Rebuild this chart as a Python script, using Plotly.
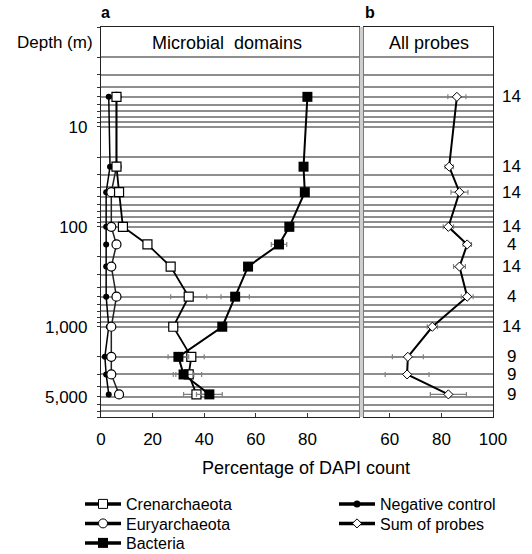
import numpy as np
import plotly.graph_objects as go

# ---------------- data ----------------
depth = [5, 25, 45, 100, 150, 250, 500, 1000, 2000, 3000, 4750]
crenarchaeota = [6, 6, 7, 8.5, 18, 27, 34, 28, 35, 34, 37]
cren_err = [None, None, None, None, None, None, 7, None, 5, 5, 5]
euryarchaeota = [6, 6, 4, 4, 6, 4, 6, 4, 4, 4, 7]
bacteria = [80, 78.5, 79, 73, 69, 57, 52, 47, 30, 32, 42]
bact_err = [None, None, None, None, 3, None, 5.5, None, 4, 4, 5]
negative_control = [3, 3.5, 2, 2, 2, 2, 2, 3, 1.5, 2, 3]
sum_of_probes = [86, 83, 87, 82.7, 90, 87, 90, 76.5, 67, 66.7, 82.7]
sum_err = [3.5, 1.6, 3.3, 2, 1.6, 2.3, 2.3, 2, 6, 8.5, 7]
n_probes = [14, 14, 14, 14, 4, 14, 4, 14, 9, 9, 9]

y_label_vals = {10: "10", 100: "100", 1000: "1,000", 5000: "5,000"}
xa_ticks = [0, 20, 40, 60, 80]
xb_ticks = [60, 80, 100]

# ---------------- layout geometry ----------------
W, H = 532, 554
TOP, BOT = 27, 417
PH = BOT - TOP
FONT = "Liberation Sans, Arial, Helvetica, sans-serif"
FS = 17

def py(pix):
    return 1 - (pix - TOP) / PH

def px(pix):
    return pix / W

grid_vals = [m * 10 ** k for k in range(4) for m in range(1, 10) if m * 10 ** k <= 8000]
grid_text = [y_label_vals.get(v, "") for v in grid_vals]

fig = go.Figure()

err_style = dict(type="data", color="#808080", thickness=1.2, width=2.5)

# Panel a
fig.add_trace(go.Scatter(x=negative_control, y=depth, mode="lines+markers",
                         line=dict(color="black", width=1.5),
                         marker=dict(symbol="circle", size=6, color="black"),
                         showlegend=False, xaxis="x", yaxis="y"))
fig.add_trace(go.Scatter(x=euryarchaeota, y=depth, mode="lines+markers",
                         line=dict(color="#222", width=1.5),
                         marker=dict(symbol="circle", size=9, color="white",
                                     line=dict(color="black", width=1.2)),
                         showlegend=False, xaxis="x", yaxis="y"))
fig.add_trace(go.Scatter(x=crenarchaeota, y=depth, mode="lines+markers",
                         line=dict(color="black", width=1.8),
                         marker=dict(symbol="square", size=9, color="white",
                                     line=dict(color="black", width=1.2)),
                         error_x=dict(array=cren_err, **err_style),
                         showlegend=False, xaxis="x", yaxis="y"))
fig.add_trace(go.Scatter(x=bacteria, y=depth, mode="lines+markers",
                         line=dict(color="black", width=2),
                         marker=dict(symbol="square", size=10, color="black"),
                         error_x=dict(array=bact_err, **err_style),
                         showlegend=False, xaxis="x", yaxis="y"))
# Panel b
fig.add_trace(go.Scatter(x=sum_of_probes, y=depth, mode="lines+markers",
                         line=dict(color="black", width=2),
                         marker=dict(symbol="diamond", size=7, color="white",
                                     line=dict(color="black", width=1)),
                         error_x=dict(array=sum_err, **err_style),
                         showlegend=False, xaxis="x2", yaxis="y2"))

# legend entries (one legend each, for precise placement)
leg_items = [
    ("Crenarchaeota", dict(symbol="square", size=9, color="white", line=dict(color="black", width=1)), "legend", 83, 504),
    ("Euryarchaeota", dict(symbol="circle", size=9, color="white", line=dict(color="black", width=1)), "legend2", 83, 523.5),
    ("Bacteria", dict(symbol="square", size=10, color="black"), "legend3", 83, 543),
    ("Negative control", dict(symbol="circle", size=7, color="black"), "legend4", 337, 504),
    ("Sum of probes", dict(symbol="diamond", size=7, color="white", line=dict(color="black", width=1)), "legend5", 337, 523.5),
]
legend_layouts = {}
for name, mk, lg, lx, ly in leg_items:
    fig.add_trace(go.Scatter(x=[None], y=[None], mode="lines+markers", name=name,
                             line=dict(color="black", width=3.5), marker=mk,
                             legend=lg, xaxis="x", yaxis="y"))
    legend_layouts[lg] = dict(x=px(lx - 3), y=py(ly), xanchor="left", yanchor="middle",
                              bgcolor="rgba(0,0,0,0)", font=dict(family=FONT, size=16, color="black"),
                              itemwidth=36, borderwidth=0)

axis_common = dict(showline=True, mirror=True, linecolor="#222", linewidth=1.2,
                   zeroline=False, showgrid=False, automargin=False)

yaxis_common = dict(type="log", range=[np.log10(8000), 0], tickmode="array",
                    tickvals=grid_vals, showgrid=True, gridcolor="#8e8e8e", gridwidth=1.5,
                    showline=True, mirror=True, linecolor="#222", linewidth=1.2, zeroline=False,
                    automargin=False)

fig.update_layout(
    width=W, height=H,
    margin=dict(l=0, r=0, t=TOP, b=H - BOT, autoexpand=False),
    paper_bgcolor="white", plot_bgcolor="white",
    font=dict(family=FONT, size=FS, color="black"),
    xaxis=dict(domain=[px(101), px(359)], range=[0, 100], tickmode="array", tickvals=xa_ticks,
               ticks="inside", ticklen=4, tickcolor="#333", ticklabelstandoff=6,
               tickfont=dict(size=FS), anchor="y", **axis_common),
    xaxis2=dict(domain=[px(364), px(493)], range=[50, 100], tickmode="array", tickvals=xb_ticks,
                ticks="inside", ticklen=4, tickcolor="#333", ticklabelstandoff=6,
                tickfont=dict(size=FS), anchor="y2", **axis_common),
    yaxis=dict(ticktext=grid_text, ticks="outside", ticklen=3, tickcolor="#333",
               ticklabelstandoff=6, tickfont=dict(size=FS), anchor="x", **yaxis_common),
    yaxis2=dict(ticktext=["" for _ in grid_vals], ticks="", showticklabels=False,
                matches="y", anchor="x2", **yaxis_common),
    **legend_layouts,
)

# gray band between the two panels
fig.add_shape(type="rect", xref="paper", yref="paper", x0=px(359.5), x1=px(363.5), y0=0, y1=1,
              fillcolor="#cfcfcf", line=dict(width=0), layer="above")

def note(text, x, y, size=FS, xanchor="center", yref="paper"):
    return dict(text=text, x=x, y=y, xref="paper", yref=yref, xanchor=xanchor,
                yanchor="middle", showarrow=False, font=dict(size=size))

ann = [
    note("Microbial  domains", px(227), py(43), size=18),
    note("All probes", px(429), py(43), size=18),
    note("Depth (m)", px(95), py(43), xanchor="right"),
    note("<b>a</b>", px(99), py(13), size=16, xanchor="left"),
    note("<b>b</b>", px(363), py(13), size=16, xanchor="left"),
    note("Percentage of DAPI count", px(306), py(468), size=18),
]
for d, n in zip(depth, n_probes):
    ann.append(note(str(n), px(511), np.log10(d), yref="y"))
fig.update_layout(annotations=ann)

fig.write_html("out.html", config={"displayModeBar": False},
               post_script="document.body.style.margin='0';")
